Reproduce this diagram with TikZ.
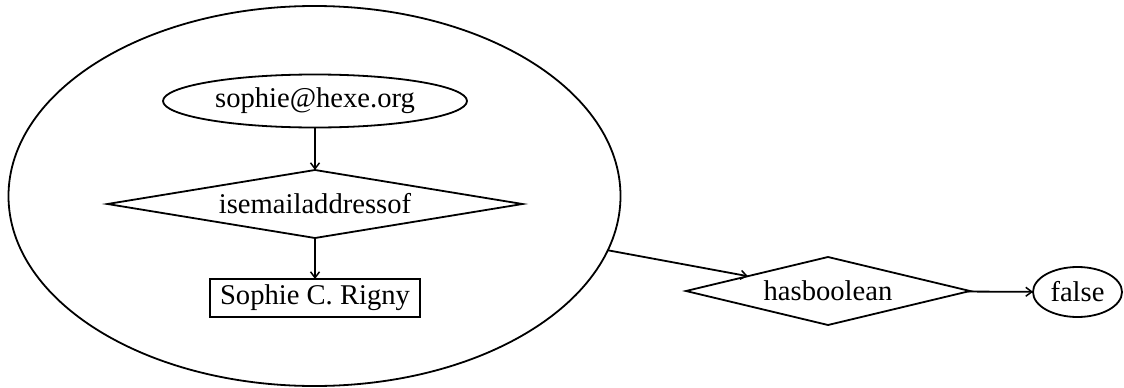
\documentclass[tikz,border=0pt]{standalone}
\usepackage{fontspec}
\setmainfont{Liberation Serif}
\usetikzlibrary{shapes.geometric,arrows.meta}
\begin{document}
\begin{tikzpicture}[x=1pt,y=-1pt,
  every node/.style={inner sep=0pt,outer sep=0pt,font=\fontsize{28.6}{34}\selectfont},
  ell/.style={draw,line width=1.8pt,ellipse},
  dia/.style={draw,line width=1.8pt,diamond},
  boxn/.style={draw,line width=1.8pt,rectangle},
  conn/.style={line width=1.8pt,-{Straight Barb[length=6pt,width=9pt,line width=1.5pt]}}]
\useasboundingbox (0,0) rectangle (1124,388);
\node[ell,minimum width=612pt,minimum height=380pt] (big) at (314.5,196) {};
\node[ell,minimum width=304pt,minimum height=53pt] (email) at (315,101) {sophie@hexe.org};
\node[dia,shape aspect=6.1,minimum width=415pt,minimum height=68pt] (isem) at (315,204) {isemailaddressof};
\node[boxn,minimum width=210pt,minimum height=38pt] (name) at (315,298) {Sophie C. Rigny};
\node[dia,shape aspect=4.18,minimum width=284pt,minimum height=68pt] (hb) at (828,291) {hasboolean};
\node[ell,minimum width=89pt,minimum height=50pt] (false) at (1077.5,292) {false};
\draw[conn] (email) -- (isem);
\draw[conn] (isem) -- (name);
\draw[conn] (big) -- (hb);
\draw[conn] (hb) -- (false);
\end{tikzpicture}
\end{document}
